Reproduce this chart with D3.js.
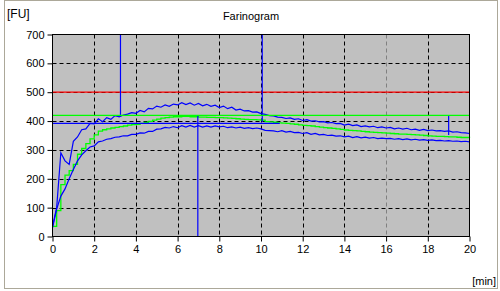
<!DOCTYPE html>
<html>
<head>
<meta charset="utf-8">
<script src="https://cdn.jsdelivr.net/npm/d3@7/dist/d3.min.js"></script>
<style>
body { margin: 0; background: #fff; }
text { font-family: "Liberation Sans", Arial, sans-serif; }
</style>
</head>
<body>
<div id="chart-area"></div>
<script>
/*
*    farinogram
*/

// DATA
var title = "Farinogram"
var yUnit = "[FU]"
var xUnit = "[min]"

var xTicks = [0, 2, 4, 6, 8, 10, 12, 14, 16, 18, 20]
var yTicks = [0, 100, 200, 300, 400, 500, 600, 700]

// samples every 0.2 min, 0..20
var sampleStep = 0.2

var upper = [35, 100, 290, 262, 250, 330, 345, 370, 373, 392,
	390, 408, 398, 412, 406, 419, 415, 421, 424, 429,
	427, 437, 432, 444, 442, 452, 448, 456, 451, 459,
	456, 464, 457, 463, 455, 461, 453, 458, 451, 455,
	447, 452, 443, 448, 438, 441, 435, 436, 431, 432,
	426, 423, 419, 418, 414, 413, 409, 411, 406, 408,
	402, 405, 400, 401, 397, 398, 394, 395, 391, 392,
	386, 389, 384, 387, 381, 383, 380, 382, 377, 380,
	376, 378, 373, 376, 372, 375, 370, 372, 368, 371,
	367, 369, 366, 367, 364, 366, 362, 363, 360, 359, 357]

var lower = [30, 95, 140, 165, 200, 232, 262, 283, 297, 310,
	314, 328, 331, 337, 339, 344, 345, 349, 349, 354,
	354, 359, 358, 364, 364, 372, 373, 378, 376, 381,
	377, 384, 379, 385, 379, 384, 379, 383, 379, 383,
	380, 382, 377, 380, 376, 379, 375, 377, 374, 376,
	373, 368, 367, 366, 363, 367, 362, 364, 360, 361,
	357, 360, 354, 357, 352, 354, 350, 351, 348, 349,
	345, 348, 343, 346, 342, 344, 341, 343, 339, 341,
	339, 340, 337, 339, 336, 338, 335, 337, 334, 336,
	333, 335, 332, 333, 331, 332, 330, 331, 329, 330, 328]

var mean = [35, 90, 180, 213, 228, 250, 285, 305, 322, 338,
	352, 365, 370, 373, 376, 378, 381, 383, 386, 388,
	389, 392, 395, 399, 403, 407, 410, 412, 414, 415,
	415, 416, 416, 415, 415, 414, 414, 413, 413, 412,
	412, 411, 410, 409, 408, 407, 406, 405, 405, 404,
	403, 398, 397, 396, 394, 393, 392, 390, 389, 387,
	385, 384, 383, 381, 379, 377, 376, 375, 373, 371,
	369, 368, 367, 366, 364, 363, 362, 361, 360, 359,
	358, 357, 356, 355, 355, 354, 353, 352, 351, 350,
	349, 348, 347, 347, 346, 345, 345, 344, 343, 343, 342]

// spikes on the upper curve
var spikeTimes = [3.26, 10.06, 19.0]
var spikeTop = [700, 700, 420]
var spikeBottom = [416, 398, 352]

// evaluation markers
var redLevel = 500
var greenLevel = 420
var blueLevel = 392
var blueLevelEnd = 10.9
var markerTime = 6.97
var markerTop = 418

var width = 500
var height = 291

var svg = d3.select("#chart-area").append("svg")
.attr("width", width)
.attr("height", height)

// frame
svg.append("rect")
.attr("x", 4.5)
.attr("y", 0.5)
.attr("width", 493)
.attr("height", 288)
.attr("fill", "#fff")
.attr("stroke", "#aca899")

var x = d3.scaleLinear()
.domain([0, 20])
.range([52.5, 469.5])

var y = d3.scaleLinear()
.domain([0, 700])
.range([236.5, 34.5])

// plot background
svg.append("rect")
.attr("x", x(0))
.attr("y", y(700))
.attr("width", x(20) - x(0))
.attr("height", y(0) - y(700))
.attr("fill", "#c0c0c0")

// grid
svg.selectAll(".vgrid").data(xTicks.slice(1, -1)).enter().append("line")
.attr("class", "vgrid")
.attr("x1", d => Math.round(x(d)) + 0.5)
.attr("x2", d => Math.round(x(d)) + 0.5)
.attr("y1", y(700))
.attr("y2", y(0))
.attr("stroke", d => d == 16 ? "#808080" : "#000")
.attr("stroke-dasharray", "4,3")

svg.selectAll(".hgrid").data(yTicks.slice(1, -1)).enter().append("line")
.attr("class", "hgrid")
.attr("x1", x(0))
.attr("x2", x(20))
.attr("y1", d => Math.round(y(d)) + 0.5)
.attr("y2", d => Math.round(y(d)) + 0.5)
.attr("stroke", "#000")
.attr("stroke-dasharray", "4,3")

// axes
var xAxisCall = d3.axisBottom(x)
.tickValues(xTicks)
.tickSize(5)
.tickSizeOuter(0)
.tickPadding(4)

var yAxisCall = d3.axisLeft(y)
.tickValues(yTicks)
.tickSize(5)
.tickSizeOuter(0)
.tickPadding(3)

var xAxisGroup = svg.append("g")
.attr("transform", "translate(0, " + y(0) + ")")
.call(xAxisCall)

var yAxisGroup = svg.append("g")
.attr("transform", "translate(" + x(0) + ", 0)")
.call(yAxisCall)

svg.selectAll(".domain").remove()
svg.selectAll(".tick text")
.attr("font-size", "11px")
.attr("font-family", "Liberation Sans, Arial, sans-serif")
.attr("fill", "#000")

// red limit line
svg.append("line")
.attr("x1", x(0))
.attr("x2", x(20))
.attr("y1", y(redLevel))
.attr("y2", y(redLevel))
.attr("stroke", "#ff0000")
.attr("stroke-width", 1.2)

// curves
var line = d3.line()
.x((d, i) => x(i * sampleStep))
.y(d => y(d))

var stepLine = d3.line()
.x((d, i) => x(i * sampleStep))
.y(d => y(d))
.curve(d3.curveStepAfter)

svg.append("path")
.datum(mean)
.attr("d", stepLine)
.attr("fill", "none")
.attr("stroke", "#00ff00")
.attr("stroke-width", 1.3)

svg.append("path")
.datum(upper)
.attr("d", line)
.attr("fill", "none")
.attr("stroke", "#0000ff")
.attr("stroke-width", 1.2)

svg.append("path")
.datum(lower)
.attr("d", line)
.attr("fill", "none")
.attr("stroke", "#0000ff")
.attr("stroke-width", 1.2)

// spikes
svg.selectAll(".spike").data(spikeTimes).enter().append("line")
.attr("class", "spike")
.attr("x1", d => x(d))
.attr("x2", d => x(d))
.attr("y1", (d, i) => y(spikeTop[i]))
.attr("y2", (d, i) => y(spikeBottom[i]))
.attr("stroke", "#0000ff")
.attr("stroke-width", 1.2)

// markers
svg.append("line")
.attr("x1", x(0))
.attr("x2", x(20))
.attr("y1", y(greenLevel))
.attr("y2", y(greenLevel))
.attr("stroke", "#00ff00")
.attr("stroke-width", 1.2)

svg.append("line")
.attr("x1", x(0))
.attr("x2", x(blueLevelEnd))
.attr("y1", y(blueLevel))
.attr("y2", y(blueLevel))
.attr("stroke", "#0000ff")
.attr("stroke-width", 1.2)

svg.append("line")
.attr("x1", x(markerTime))
.attr("x2", x(markerTime))
.attr("y1", y(markerTop))
.attr("y2", y(0))
.attr("stroke", "#0000ff")
.attr("stroke-width", 1.2)

// plot border
svg.append("rect")
.attr("x", x(0))
.attr("y", y(700))
.attr("width", x(20) - x(0))
.attr("height", y(0) - y(700))
.attr("fill", "none")
.attr("stroke", "#000")

// labels
svg.append("text")
.attr("x", 7)
.attr("y", 18)
.attr("font-size", "12px")
.style("fill", "black")
.text(yUnit)

svg.append("text")
.attr("x", 251)
.attr("y", 20)
.attr("font-size", "11px")
.attr("text-anchor", "middle")
.style("fill", "black")
.text(title)

svg.append("text")
.attr("x", 496)
.attr("y", 285)
.attr("font-size", "11px")
.attr("text-anchor", "end")
.style("fill", "black")
.text(xUnit)
</script>
</body>
</html>
